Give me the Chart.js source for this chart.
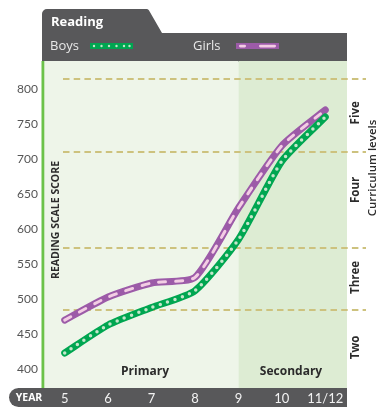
<!DOCTYPE html>
<html>
<head>
<meta charset="utf-8">
<script src="https://cdn.jsdelivr.net/npm/chart.js@4"></script>
<style>
  html, body { margin: 0; padding: 0; background: #fff; }
  canvas { display: block; }
</style>
</head>
<body>
<canvas id="chart" width="379" height="407"></canvas>
<script>
// data
const years = ['5', '6', '7', '8', '9', '10', '11/12'];
const boys = [423, 463, 488, 512, 585, 697, 760];
const girls = [470, 503, 523, 531, 630, 719, 770];
const yTicks = [400, 450, 500, 550, 600, 650, 700, 750, 800];
const levelBoundaries = [484, 573, 710, 814];
const levelNames = ['Two', 'Three', 'Four', 'Five'];
const levelLabelAt = [431, 531, 656, 766];
const secondaryFrom = '9';

const DARK = '#58585a';
const GREEN = '#00a651';
const GREEN_DOT = '#c4e6cb';
const PURPLE = '#9c5ba8';
const PINK = '#f3cde4';
const TEXT = '#2b2b2b';

const decor = {
    id: 'decor',
    beforeDraw(chart) {
        const ctx = chart.ctx;
        const a = chart.chartArea;
        const xs = chart.scales.x;
        ctx.save();

        // header tab + legend bar
        ctx.fillStyle = DARK;
        ctx.beginPath();
        ctx.moveTo(42, a.top + 1);
        ctx.lineTo(42, 14);
        ctx.arcTo(42, 9, 47, 9, 5);
        ctx.lineTo(145, 9);
        ctx.arcTo(148, 9, 150, 12, 3);
        ctx.lineTo(162, 33);
        ctx.lineTo(a.right, 33);
        ctx.lineTo(a.right, a.top + 1);
        ctx.closePath();
        ctx.fill();

        ctx.fillStyle = '#fff';
        ctx.font = 'bold 13px "Open Sans"';
        ctx.textBaseline = 'alphabetic';
        ctx.fillText('Reading', 51, 26);

        ctx.fillStyle = '#e8e8e8';
        ctx.font = '13px "Open Sans"';
        ctx.fillText('Boys', 50, 50);
        ctx.fillText('Girls', 193, 50);

        // legend markers
        ctx.fillStyle = GREEN;
        ctx.fillRect(90, 43, 43, 6);
        ctx.fillStyle = GREEN_DOT;
        [94, 101.5, 109, 116.5, 124, 129.5].forEach(function(px) {
            ctx.beginPath();
            ctx.arc(px, 46, 1.2, 0, Math.PI * 2);
            ctx.fill();
        });
        ctx.fillStyle = PURPLE;
        ctx.fillRect(236, 43, 43, 6);
        ctx.fillStyle = PINK;
        ctx.beginPath(); ctx.roundRect(239, 44.8, 7, 2.6, 1.3); ctx.fill();
        ctx.beginPath(); ctx.roundRect(259, 44.8, 17, 2.6, 1.3); ctx.fill();

        // plot background, primary / secondary
        const xSec = xs.getPixelForValue(years.indexOf(secondaryFrom));
        ctx.fillStyle = '#eef5e9';
        ctx.fillRect(a.left, a.top, xSec - a.left, a.bottom - a.top);
        ctx.fillStyle = '#ddecd3';
        ctx.fillRect(xSec, a.top, a.right - xSec, a.bottom - a.top);

        // green rule on the left
        ctx.fillStyle = '#6cc24a';
        ctx.fillRect(41.5, a.top, 2.8, a.bottom - a.top);

        // bottom bar
        ctx.fillStyle = DARK;
        ctx.beginPath();
        ctx.roundRect(9, a.bottom, a.right - 9, 19, [9.5, 0, 0, 9.5]);
        ctx.fill();
        ctx.fillStyle = '#fff';
        ctx.font = 'bold 10.5px "Open Sans"';
        ctx.textAlign = 'center';
        ctx.textBaseline = 'middle';
        ctx.fillText('YEAR', 29, a.bottom + 10);
        ctx.restore();
    },
    beforeDatasetsDraw(chart) {
        const ctx = chart.ctx;
        const ys = chart.scales.y;
        ctx.save();
        ctx.strokeStyle = '#cdc27e';
        ctx.lineWidth = 2;
        ctx.setLineDash([6.5, 4.2]);
        levelBoundaries.forEach(function(v) {
            const py = Math.round(ys.getPixelForValue(v));
            ctx.beginPath();
            ctx.moveTo(63, py);
            ctx.lineTo(366, py);
            ctx.stroke();
        });
        ctx.restore();
    },
    afterDraw(chart) {
        const ctx = chart.ctx;
        const a = chart.chartArea;
        const xs = chart.scales.x;
        const ys = chart.scales.y;
        ctx.save();
        ctx.fillStyle = TEXT;
        ctx.textAlign = 'center';
        ctx.textBaseline = 'middle';

        ctx.font = 'bold 12px "Open Sans"';
        ctx.fillText('Primary', 145, a.bottom - 16);
        ctx.fillText('Secondary', 291, a.bottom - 16);

        function vText(txt, x, y) {
            ctx.save();
            ctx.translate(x, y);
            ctx.rotate(-Math.PI / 2);
            ctx.fillText(txt, 0, 0);
            ctx.restore();
        }

        ctx.font = 'bold 10.5px "Open Sans"';
        vText('READING SCALE SCORE', 56, 220);

        ctx.font = 'bold 11.5px "Open Sans"';
        levelNames.forEach(function(name, i) {
            vText(name, 356, ys.getPixelForValue(levelLabelAt[i]));
        });
        ctx.font = '600 11.5px "Open Sans"';
        vText('Curriculum levels', 373, 168);
        ctx.restore();
    }
};

const ctx = document.getElementById('chart').getContext('2d');
new Chart(ctx, {
    type: 'line',
    data: {
        labels: years,
        datasets: [
            { label: 'Girls', data: girls, borderColor: PURPLE, borderWidth: 7, order: 3 },
            { label: 'Girls', data: girls, borderColor: PINK, borderWidth: 3, borderDash: [7, 10], order: 2 },
            { label: 'Boys', data: boys, borderColor: GREEN, borderWidth: 7, order: 1 },
            { label: 'Boys', data: boys, borderColor: GREEN_DOT, borderWidth: 3.5, borderDash: [0, 7.7], order: 0 }
        ]
    },
    options: {
        responsive: false,
        animation: false,
        layout: { padding: { top: 61, right: 32, left: 0, bottom: 0 } },
        elements: {
            line: { tension: 0.2, borderCapStyle: 'round', borderJoinStyle: 'round', fill: false },
            point: { radius: 0 }
        },
        plugins: { legend: { display: false }, tooltip: { enabled: false } },
        scales: {
            x: {
                offset: true,
                grid: { display: false, drawTicks: false },
                border: { display: false },
                ticks: { color: '#f2f2f2', font: { family: 'Lato', size: 13 }, padding: 3, maxRotation: 0, autoSkip: false },
                afterFit(s) { s.height = 19; }
            },
            y: {
                min: 373,
                max: 840,
                grid: { display: false, drawTicks: false },
                border: { display: false },
                ticks: { color: '#555', font: { family: 'Lato', size: 12 }, padding: 5 },
                afterBuildTicks(s) { s.ticks = yTicks.map(v => ({ value: v })); },
                afterFit(s) { s.width = 43; }
            }
        }
    },
    plugins: [decor]
});
</script>
</body>
</html>
